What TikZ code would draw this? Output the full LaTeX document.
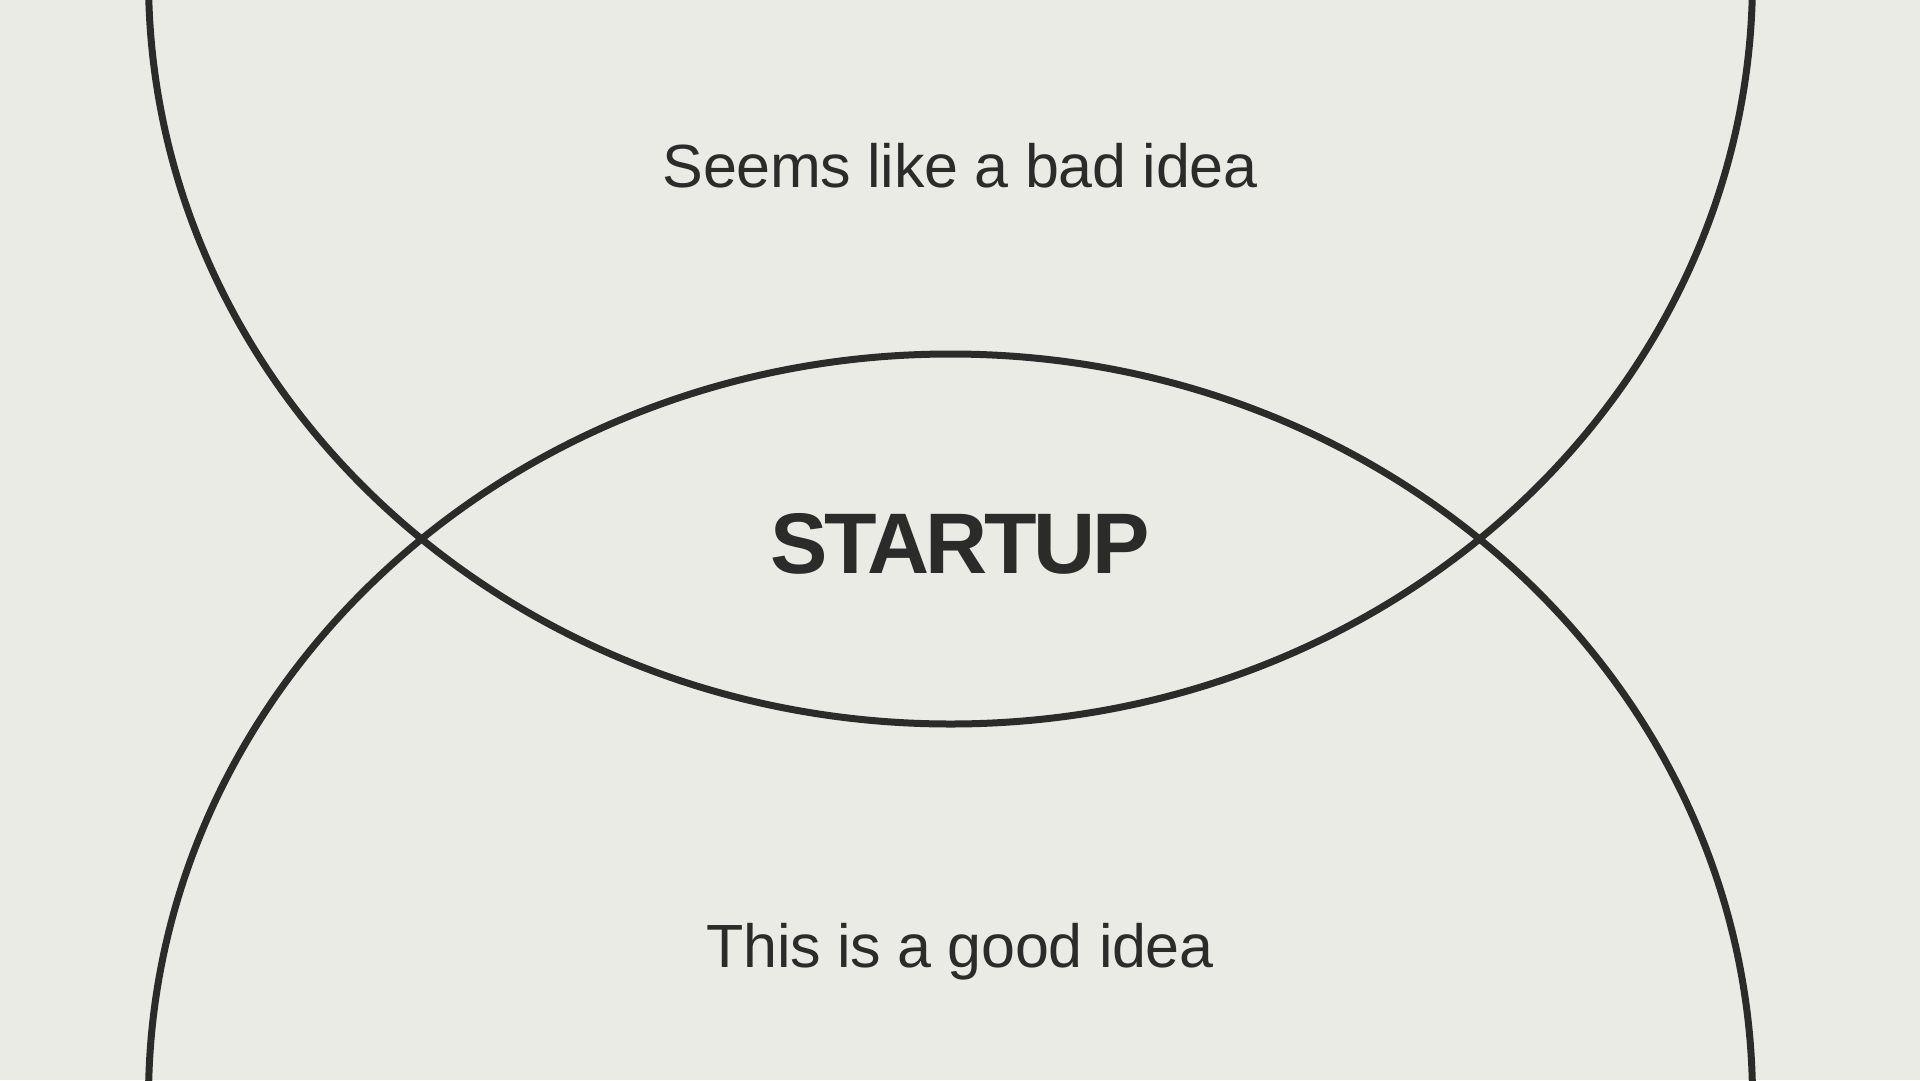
\documentclass[tikz,border=0pt]{standalone}
\usepackage{fontspec}
\setmainfont{Liberation Sans}
\definecolor{paper}{RGB}{235,235,229}
\definecolor{ink}{RGB}{43,43,41}
\tikzset{
  lens/.style={draw=ink, line width=7pt},
  caption/.style={anchor=base, text=ink, inner sep=0pt, font=\fontsize{61}{72}\selectfont\addfontfeatures{LetterSpace=-0.6}},
  core/.style={anchor=base, text=ink, inner sep=0pt, font=\fontsize{86}{100}\selectfont\bfseries\addfontfeatures{LetterSpace=-4}}
}
\begin{document}
\begin{tikzpicture}[x=1pt, y=-1pt]
      \useasboundingbox (0,0) rectangle (1920,1080);
      \fill[paper] (0,0) rectangle (1920,1080);
      \clip (0,0) rectangle (1920,1080);
      \draw[lens] (950.5,-21) ellipse [x radius=802pt, y radius=745pt];
      \draw[lens] (950.5,1099) ellipse [x radius=802pt, y radius=745pt];
      \draw
        (960,187) node[caption] (bad){Seems like a bad idea}
        (960,573) node[core] (startup){STARTUP}
        (960,967) node[caption] (good){This is a good idea};
    \end{tikzpicture}
\end{document}
